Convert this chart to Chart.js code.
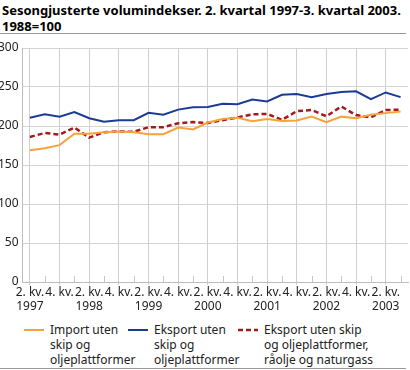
<!DOCTYPE html>
<html>
<head>
<meta charset="utf-8">
<script src="https://cdn.jsdelivr.net/npm/chart.js@4/dist/chart.umd.min.js"></script>
<style>
  body { margin: 0; width: 410px; height: 370px; background: #fff; font-family: "Noto Sans", sans-serif; position: relative; overflow: hidden; }
  #title { position: absolute; left: 2px; top: 2px; font-weight: bold; font-size: 13px; line-height: 16px; color: #000; }
  #rule1 { position: absolute; left: 0; top: 33px; width: 406px; height: 1px; background: #999; }
  #rule2 { position: absolute; left: 0; top: 368px; width: 406px; height: 1px; background: #999; }
  #wrap { position: absolute; left: 0; top: 36px; width: 410px; height: 282px; }
  #legend { position: absolute; top: 322px; left: 0; width: 410px; }
  .item { position: absolute; top: 0; font-size: 12px; line-height: 15px; color: #222; }
  .item canvas { position: absolute; left: 0; top: 6px; }
  .item span { position: absolute; left: 26px; top: 0; white-space: nowrap; }
</style>
</head>
<body>
<div id="title">Sesongjusterte volumindekser. 2. kvartal 1997-3. kvartal 2003.<br>1988=100</div>
<div id="rule1"></div>
<div id="wrap"><canvas id="myChart" width="410" height="282"></canvas></div>
<div id="legend"></div>
<div id="rule2"></div>
<script>
const quarters = [
  "2. kv. 1997", "3. kv. 1997", "4. kv. 1997", "1. kv. 1998",
  "2. kv. 1998", "3. kv. 1998", "4. kv. 1998", "1. kv. 1999",
  "2. kv. 1999", "3. kv. 1999", "4. kv. 1999", "1. kv. 2000",
  "2. kv. 2000", "3. kv. 2000", "4. kv. 2000", "1. kv. 2001",
  "2. kv. 2001", "3. kv. 2001", "4. kv. 2001", "1. kv. 2002",
  "2. kv. 2002", "3. kv. 2002", "4. kv. 2002", "1. kv. 2003",
  "2. kv. 2003", "3. kv. 2003"
];

const importUten = [169, 171.5, 175.5, 190, 190, 192, 193, 192, 189.5, 189.5, 198, 195.5, 204.5,
  209, 210.5, 206, 209, 206.5, 207, 212, 205, 212, 210, 214.5, 216.5, 218.5];
const eksportUten = [210.5, 215, 212, 218, 210, 205.5, 207.5, 207.5, 217, 214.5, 221, 224, 224.5,
  228.5, 228, 234, 231.5, 240, 241, 237, 241, 243.5, 244.5, 234.5, 243, 237];
const eksportUtenOlje = [186, 191, 189, 198, 185, 192, 193, 192.5, 198.5, 198.5, 203.5, 205, 204,
  207.5, 211, 215, 215.5, 208, 219, 220.5, 212.5, 225, 214, 211, 220.5, 221];

const yTicks = [0, 50, 100, 150, 200, 250, 300];

const legendNames = [
  ["Import uten", "skip og", "oljeplattformer"],
  ["Eksport uten", "skip og", "oljeplattformer"],
  ["Eksport uten skip", "og oljeplattformer,", "råolje og naturgass"]
];

// x-axis labels: "2. kv." with year under it, "4. kv." alone, nothing for 1. and 3.
function xLabel(i) {
  const q = quarters[i].split(" ");
  if (q[0] === "2.") return ["2. kv.", q[2]];
  if (q[0] === "4.") return "4. kv.";
  return "";
}

const minorTicks = {
  id: "minorTicks",
  afterDatasetsDraw(chart) {
    const x = chart.scales.x;
    const ctx = chart.ctx;
    const bottom = chart.chartArea.bottom;
    ctx.save();
    ctx.strokeStyle = "#c8c8c8";
    ctx.lineWidth = 1;
    for (let i = 1; i < quarters.length; i += 2) {
      const px = Math.round(x.getPixelForValue(i)) + 0.5;
      ctx.beginPath();
      ctx.moveTo(px, bottom - 6);
      ctx.lineTo(px, bottom);
      ctx.stroke();
    }
    ctx.restore();
  }
};

const chart = new Chart(document.getElementById("myChart"), {
  type: "line",
  data: {
    labels: quarters,
    datasets: [
      {
        label: legendNames[0].join(" "),
        data: importUten,
        borderColor: "#f7a23b",
        borderWidth: 2,
        pointRadius: 0,
        tension: 0,
      },
      {
        label: legendNames[1].join(" "),
        data: eksportUten,
        borderColor: "#1b3b94",
        borderWidth: 2,
        pointRadius: 0,
        tension: 0,
      },
      {
        label: legendNames[2].join(" "),
        data: eksportUtenOlje,
        borderColor: "#a31a1a",
        borderWidth: 2.5,
        borderDash: [5, 3],
        pointRadius: 0,
        tension: 0,
      },
    ],
  },
  options: {
    responsive: false,
    animation: false,
    events: [],
    layout: { padding: { top: 12, right: 2, left: 0, bottom: 0 } },
    plugins: {
      legend: { display: false },
      tooltip: { enabled: false },
    },
    scales: {
      x: {
        offset: true,
        grid: {
          offset: false,
          color: (c) => (c.index % 2 === 0 ? "#cfcfcf" : "rgba(0,0,0,0)"),
          tickLength: 3,
          tickColor: (c) => (c.index % 2 === 0 ? "#cfcfcf" : "rgba(0,0,0,0)"),
        },
        border: { color: "#bdbdbd" },
        ticks: {
          autoSkip: false,
          maxRotation: 0,
          padding: 0,
          color: "#222",
          font: { family: "Noto Sans", size: 12, lineHeight: 1.2 },
          callback: (v, i) => xLabel(i),
        },
        afterFit: (s) => { s.height = 36; },
      },
      y: {
        min: 0,
        max: 300,
        afterBuildTicks: (s) => { s.ticks = yTicks.map((v) => ({ value: v })); },
        grid: { color: "#d4d4d4", drawTicks: false },
        border: { color: "#bdbdbd" },
        ticks: {
          padding: 4,
          color: "#222",
          font: { family: "Noto Sans", size: 12 },
        },
        afterFit: (s) => { s.width = 22.5; },
      },
    },
  },
  plugins: [minorTicks],
});

// HTML legend built from the chart datasets
const legendLeft = [24, 128, 238];
const legend = document.getElementById("legend");
chart.data.datasets.forEach((ds, i) => {
  const item = document.createElement("div");
  item.className = "item";
  item.style.left = legendLeft[i] + "px";
  const sw = document.createElement("canvas");
  sw.width = 20; sw.height = 4;
  const c = sw.getContext("2d");
  c.strokeStyle = ds.borderColor;
  c.lineWidth = ds.borderWidth;
  if (ds.borderDash) c.setLineDash(ds.borderDash);
  c.beginPath(); c.moveTo(0, 2); c.lineTo(20, 2); c.stroke();
  item.appendChild(sw);
  const t = document.createElement("span");
  t.innerHTML = legendNames[i].join("<br>");
  item.appendChild(t);
  legend.appendChild(item);
});
</script>
</body>
</html>
